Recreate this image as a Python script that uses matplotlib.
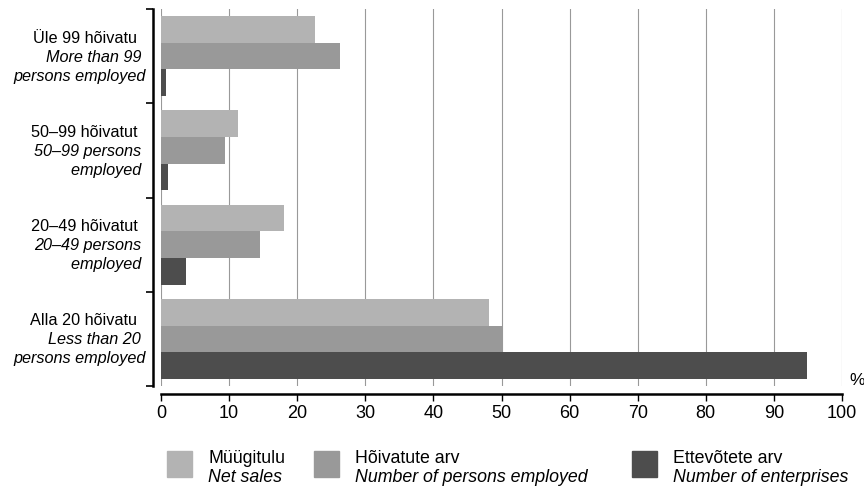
import matplotlib.pyplot as plt
from matplotlib.patches import Rectangle

plt.rcParams['font.family'] = ['Liberation Sans', 'DejaVu Sans']

# data (top group first)
groups_et = ['Üle 99 hõivatu', '50–99 hõivatut', '20–49 hõivatut', 'Alla 20 hõivatu']
groups_en = [['More than 99 ', 'persons employed'],
             ['50–99 persons ', 'employed '],
             ['20–49 persons ', 'employed '],
             ['Less than 20 ', 'persons employed']]
net_sales = [22.6, 11.3, 18.0, 48.2]
persons = [26.3, 9.4, 14.6, 50.1]
enterprises = [0.7, 1.0, 3.6, 94.9]

series = [net_sales, persons, enterprises]
colors = ['#b3b3b3', '#999999', '#4d4d4d']
legend_et = ['Müügitulu', 'Hõivatute arv', 'Ettevõtete arv']
legend_en = ['Net sales', 'Number of persons employed', 'Number of enterprises']

fig = plt.figure(figsize=(8.64, 4.89), dpi=100)
ax = fig.add_axes([161 / 864, 1 - 387 / 489, (842 - 161) / 864, 377 / 489])

h = 0.283
for i, (vals, c) in enumerate(zip(series, colors)):
    ypos = [k + (i - 1) * h for k in range(len(vals))]
    ax.barh(ypos, vals, height=h, color=c, zorder=2)

ax.set_xlim(0, 100)
ax.set_ylim(3.5, -0.5)
ax.set_xticks(range(0, 101, 10))
ax.grid(axis='x', color='#999999', linewidth=0.8, zorder=0)
ax.set_yticks([-0.5, 0.5, 1.5, 2.5, 3.5])
ax.set_yticklabels([])

for s in ['top', 'right']:
    ax.spines[s].set_visible(False)
ax.spines['left'].set_position(('outward', 6))
ax.spines['bottom'].set_position(('outward', 6))
ax.spines['left'].set_linewidth(1.8)
ax.spines['bottom'].set_linewidth(1.8)
ax.tick_params(axis='y', length=5, width=1.2, direction='out')
ax.tick_params(axis='x', length=5, width=1.0, direction='out', labelsize=13, pad=2)

# category labels
for k in range(len(groups_et)):
    ax.annotate(groups_et[k], xy=(0, k), xycoords=('axes fraction', 'data'),
                xytext=(-17, 13.7), textcoords='offset points',
                ha='right', va='center', fontsize=11.7)
    for j, line in enumerate(groups_en[k]):
        ax.annotate(line, xy=(0, k), xycoords=('axes fraction', 'data'),
                    xytext=(-11, -13.7 * j), textcoords='offset points',
                    ha='right', va='center', fontsize=11.7, style='italic')

ax.annotate('%', xy=(1, 3.5), xycoords=('axes fraction', 'data'),
            xytext=(5, 5), textcoords='offset points', ha='left', va='center',
            fontsize=12.5)

# legend
sq_x = [167, 314, 632]
for i in range(3):
    x0 = sq_x[i] / 864
    fig.add_artist(Rectangle((x0, 1 - 478 / 489), 25 / 864, 26 / 489,
                             transform=fig.transFigure, color=colors[i]))
    fig.text(x0 + 41 / 864, 1 - 459 / 489, legend_et[i], fontsize=12.8, va='center')
    fig.text(x0 + 41 / 864, 1 - 478 / 489, legend_en[i], fontsize=12.8, va='center',
             style='italic')

fig.savefig('out.png', dpi=100)
